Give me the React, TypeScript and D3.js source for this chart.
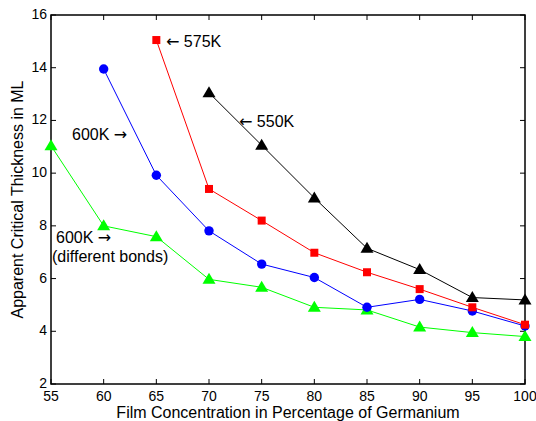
import React from "react";
import * as d3 from "d3";

const concentrations = [55, 60, 65, 70, 75, 80, 85, 90, 95, 100];
const xTicks = [55, 60, 65, 70, 75, 80, 85, 90, 95, 100];
const yTicks = [2, 4, 6, 8, 10, 12, 14, 16];

// null = no measurement at that concentration
const k575 = [null, null, 15.05, 9.4, 8.2, 6.98, 6.24, 5.6, 4.91, 4.25];
const k600 = [null, 13.95, 9.92, 7.81, 6.55, 6.04, 4.91, 5.21, 4.77, 4.2];
const k550 = [null, null, null, 13.05, 11.06, 9.06, 7.15, 6.34, 5.28, 5.19];
const k600bonds = [11.04, 8.0, 7.59, 5.97, 5.67, 4.91, 4.81, 4.16, 3.95, 3.8];

const W = 536;
const H = 421;
const m = { left: 51, right: 11, top: 15, bottom: 37 };
const font = "'Liberation Sans', Arial, Helvetica, sans-serif";
const arrowFont = "'DejaVu Sans', sans-serif";

const Marker = ({ shape, x, y, color }) => {
  if (shape === "square")
    return <rect x={x - 4} y={y - 4} width={8} height={8} fill={color} />;
  if (shape === "triangle")
    return (
      <path
        d={`M${x},${y - 6.5}L${x + 6.5},${y + 4.5}L${x - 6.5},${y + 4.5}Z`}
        fill={color}
      />
    );
  return <circle cx={x} cy={y} r={4.7} fill={color} />;
};

const Series = ({ values, color, shape, x, y }) => {
  const pts = concentrations
    .map((c, i) => [c, values[i]])
    .filter((d) => d[1] != null);
  const line = d3
    .line()
    .x((d) => x(d[0]))
    .y((d) => y(d[1]));
  return (
    <g>
      <path d={line(pts)} fill="none" stroke={color} strokeWidth={1} />
      {pts.map((d, i) => (
        <Marker key={i} shape={shape} x={x(d[0])} y={y(d[1])} color={color} />
      ))}
    </g>
  );
};

const Arrow = ({ dir }) => (
  <tspan fontFamily={arrowFont}>{dir === "left" ? "←" : "→"}</tspan>
);

export default function App() {
  const x = d3.scaleLinear().domain([55, 100]).range([m.left, W - m.right]);
  const y = d3.scaleLinear().domain([2, 16]).range([H - m.bottom, m.top]);
  const x0 = x.range()[0];
  const x1 = x.range()[1];
  const y0 = y.range()[0];
  const y1 = y.range()[1];
  const tk = 5;

  return (
    <svg
      width={W}
      height={H}
      style={{ position: "absolute", left: 0, top: 0, background: "#fff" }}
      fontFamily={font}
    >
      {/* ticks on all four sides, pointing inward */}
      <g stroke="#000" strokeWidth={1}>
        {xTicks.map((t) => (
          <g key={t}>
            <line x1={x(t)} x2={x(t)} y1={y0} y2={y0 - tk} />
            <line x1={x(t)} x2={x(t)} y1={y1} y2={y1 + tk} />
          </g>
        ))}
        {yTicks.map((t) => (
          <g key={t}>
            <line x1={x0} x2={x0 + tk} y1={y(t)} y2={y(t)} />
            <line x1={x1} x2={x1 - tk} y1={y(t)} y2={y(t)} />
          </g>
        ))}
      </g>
      <rect
        x={x0}
        y={y1}
        width={x1 - x0}
        height={y0 - y1}
        fill="none"
        stroke="#000"
        strokeWidth={1.5}
      />

      <g fontSize={14} fill="#000">
        {xTicks.map((t) => (
          <text key={t} x={x(t)} y={y0 + 17} textAnchor="middle">
            {t}
          </text>
        ))}
        {yTicks.map((t) => (
          <text key={t} x={x0 - 4} y={y(t) + 4} textAnchor="end">
            {t}
          </text>
        ))}
      </g>

      <Series values={k600bonds} color="#00ff00" shape="triangle" x={x} y={y} />
      <Series values={k600} color="#0000ff" shape="circle" x={x} y={y} />
      <Series values={k575} color="#ff0000" shape="square" x={x} y={y} />
      <Series values={k550} color="#000000" shape="triangle" x={x} y={y} />

      <g fontSize={16} fill="#000">
        <text x={166} y={47}>
          <Arrow dir="left" /> 575K
        </text>
        <text x={239} y={127}>
          <Arrow dir="left" /> 550K
        </text>
        <text x={72} y={140}>
          600K <Arrow dir="right" />
        </text>
        <text x={56} y={243}>
          600K <Arrow dir="right" />
        </text>
        <text x={52} y={262}>(different bonds)</text>
      </g>

      <text x={(x0 + x1) / 2} y={418} textAnchor="middle" fontSize={16}>
        Film Concentration in Percentage of Germanium
      </text>
      <text
        transform={`translate(23,${(y0 + y1) / 2}) rotate(-90)`}
        textAnchor="middle"
        fontSize={16}
      >
        Apparent Critical Thickness in ML
      </text>
    </svg>
  );
}
